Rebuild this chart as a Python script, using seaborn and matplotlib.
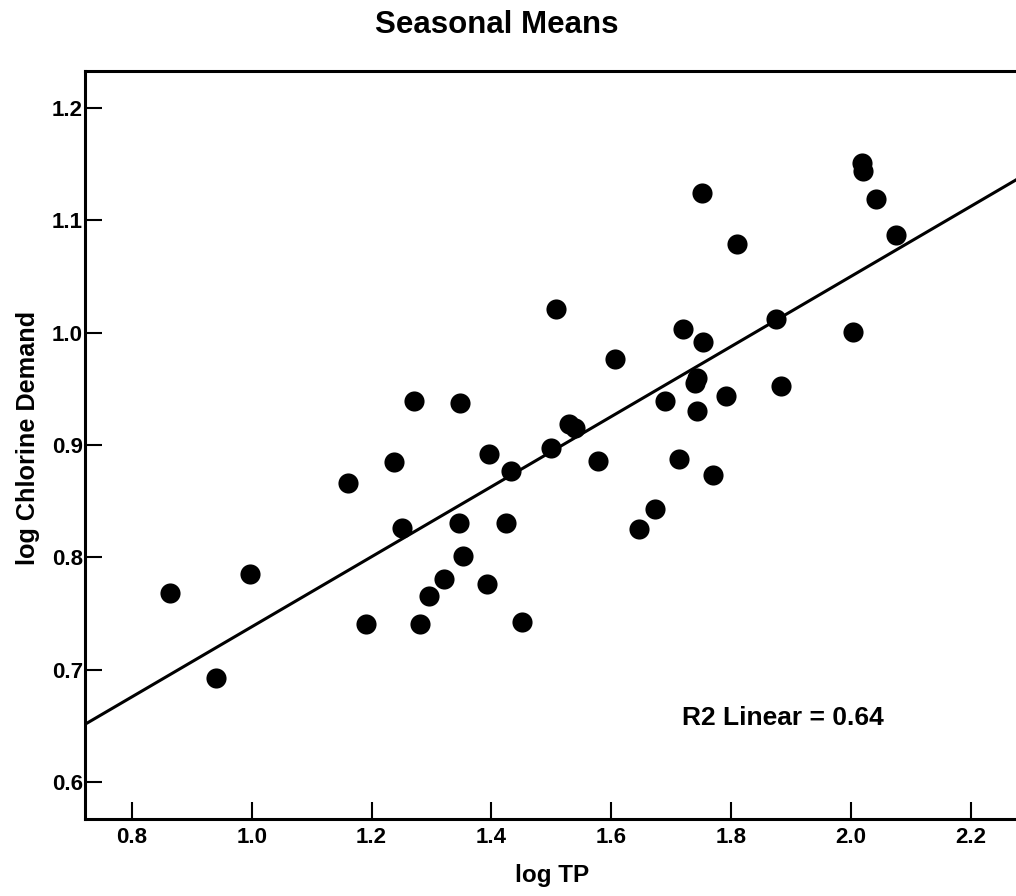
"""
Seasonal means: log chlorine demand vs log TP, with a linear fit.
"""
import numpy as np
import pandas as pd
import matplotlib
matplotlib.use("Agg")
import matplotlib.pyplot as plt
import seaborn as sns

# ----------------------------------------------------------------------
# Data
# ----------------------------------------------------------------------
log_tp = [
    0.864, 0.941, 0.998, 1.160, 1.191, 1.238, 1.250, 1.270, 1.281, 1.295,
    1.321, 1.345, 1.348, 1.353, 1.393, 1.396, 1.424, 1.432, 1.451, 1.499,
    1.508, 1.530, 1.540, 1.578, 1.606, 1.646, 1.673, 1.690, 1.712, 1.720,
    1.742, 1.740, 1.742, 1.751, 1.752, 1.769, 1.791, 1.809, 1.874, 1.883,
    2.003, 2.018, 2.020, 2.042, 2.075,
]
log_cl_demand = [
    0.768, 0.693, 0.785, 0.866, 0.741, 0.885, 0.826, 0.939, 0.741, 0.766,
    0.781, 0.831, 0.937, 0.801, 0.776, 0.892, 0.831, 0.877, 0.742, 0.897,
    1.021, 0.919, 0.915, 0.886, 0.977, 0.825, 0.843, 0.939, 0.888, 1.003,
    0.960, 0.955, 0.930, 1.124, 0.992, 0.873, 0.944, 1.079, 1.012, 0.953,
    1.001, 1.151, 1.144, 1.119, 1.087,
]
x_ticks = [0.8, 1.0, 1.2, 1.4, 1.6, 1.8, 2.0, 2.2]
y_ticks = [0.6, 0.7, 0.8, 0.9, 1.0, 1.1, 1.2]
r2_label = "R2 Linear = 0.64"

df = pd.DataFrame({"log TP": log_tp, "log Chlorine Demand": log_cl_demand})

# ----------------------------------------------------------------------
# Style
# ----------------------------------------------------------------------
sns.set_style("white")
plt.rcParams.update({
    "font.family": ["Liberation Sans", "DejaVu Sans"],
    "font.weight": "bold",
    "text.color": "black",
    "axes.labelcolor": "black",
    "xtick.color": "black",
    "ytick.color": "black",
})

fig = plt.figure(figsize=(10.16, 8.96), dpi=100)
fig.patch.set_facecolor("white")
# right spine falls outside the canvas, like the cropped original
ax = fig.add_axes([0.0837, 0.0859, 0.9311, 0.8348])

XLIM = (0.722, 2.300)
YLIM = (0.567, 1.233)
ax.set_xlim(*XLIM)
ax.set_ylim(*YLIM)

sns.regplot(
    data=df, x="log TP", y="log Chlorine Demand", ax=ax,
    ci=None, truncate=False,
    scatter_kws={"s": 210, "color": "black", "linewidths": 0, "alpha": 1},
    line_kws={"color": "black", "linewidth": 2.2},
)
ax.set_xlim(*XLIM)
ax.set_ylim(*YLIM)

# ----------------------------------------------------------------------
# Axes cosmetics
# ----------------------------------------------------------------------
for side in ["left", "bottom", "top", "right"]:
    ax.spines[side].set_linewidth(2.2)
    ax.spines[side].set_color("black")

ax.set_xticks(x_ticks)
ax.set_xticklabels([f"{t:.1f}" for t in x_ticks])
ax.set_yticks(y_ticks)
ax.set_yticklabels([f"{t:.1f}" for t in y_ticks])
ax.tick_params(axis="both", direction="in", length=12, width=1.5,
               color="black", labelsize=16, labelcolor="black")
ax.tick_params(axis="x", pad=5.5, bottom=True, top=False)
ax.tick_params(axis="y", pad=1.5, left=True, right=False)

ax.set_xlabel("log TP", fontsize=17.5, fontweight="bold", color="black")
ax.xaxis.set_label_coords(0.4937, -0.060)
ax.set_ylabel("log Chlorine Demand", fontsize=18.2, fontweight="bold",
              va="center", color="black")
ax.yaxis.set_label_coords(-0.060, 0.510)

ax.text(1.7174, 0.651, r2_label, fontsize=19, fontweight="bold",
        ha="left", va="baseline", color="black")

fig.text(0.4887, 0.9628, "Seasonal Means", fontsize=22.5,
         fontweight="bold", ha="center", va="baseline", color="black")

fig.savefig("out.png", dpi=100, facecolor="white")
plt.close(fig)
